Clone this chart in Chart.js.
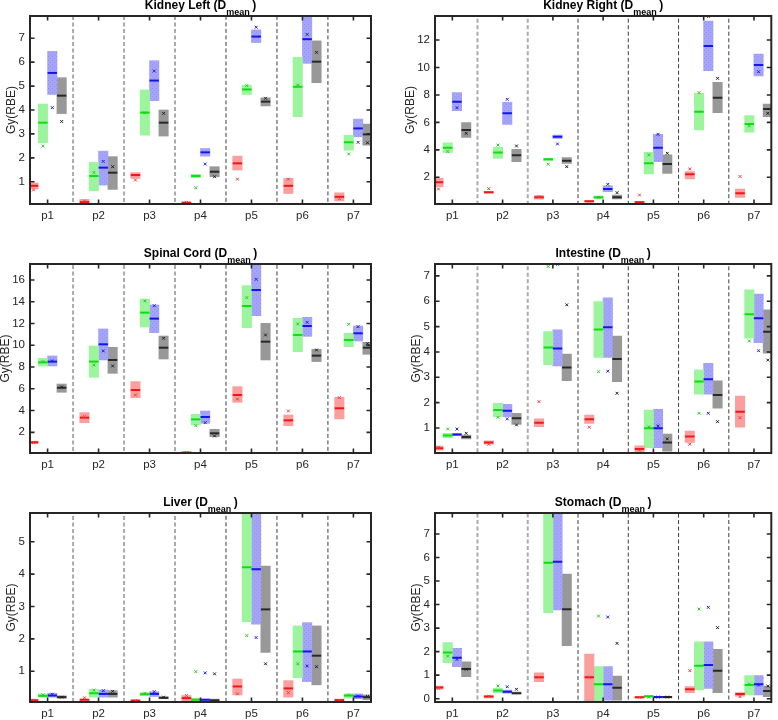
<!DOCTYPE html>
<html>
<head>
<meta charset="utf-8">
<script src="https://cdn.jsdelivr.net/npm/chart.js@4.4.1/dist/chart.umd.min.js"></script>
<style>
  html, body { margin: 0; padding: 0; background: #fff; }
  #wrap { position: relative; width: 778px; height: 720px; background: #fff; overflow: hidden; }
  canvas { position: absolute; }
</style>
</head>
<body>
<div id="wrap">
  <canvas id="c0"></canvas>
  <canvas id="c1"></canvas>
  <canvas id="c2"></canvas>
  <canvas id="c3"></canvas>
  <canvas id="c4"></canvas>
  <canvas id="c5"></canvas>
</div>
<script>
// ---------------- DATA ----------------
const categories = ['p1', 'p2', 'p3', 'p4', 'p5', 'p6', 'p7'];
// each entry: [box low, box high, median, mean]

const kidneyLeftRed   = [[0.70,0.95,0.83,0.66],[0.07,0.26,0.15,0.20],[1.14,1.38,1.28,1.07],[0.02,0.16,0.12,0.13],[1.49,2.07,1.77,1.11],[0.51,1.14,0.83,1.11],[0.20,0.54,0.37,0.30]];
const kidneyLeftGreen = [[2.63,4.25,3.47,2.49],[0.62,1.81,1.24,1.39],[2.95,4.84,3.89,3.89],[1.17,1.31,1.24,0.75],[4.65,5.04,4.86,5.02],[3.72,6.20,4.97,5.04],[2.32,2.94,2.65,2.16]];
const kidneyLeftBlue  = [[4.65,6.45,5.55,4.10],[0.86,2.28,1.59,1.85],[4.39,6.06,5.23,5.63],[2.07,2.39,2.23,1.74],[6.82,7.35,7.07,7.46],[5.95,7.95,6.96,7.16],[2.88,3.62,3.23,2.65]];
const kidneyLeftGray  = [[3.85,5.35,4.60,3.52],[0.68,2.05,1.38,1.63],[2.91,4.00,3.47,3.86],[1.21,1.63,1.42,1.21],[4.17,4.51,4.35,4.49],[5.14,6.89,6.02,6.41],[2.53,3.41,2.98,2.63]];

const kidneyRightRed   = [[1.32,1.93,1.64,1.15],[0.84,0.96,0.91,1.17],[0.40,0.67,0.54,0.59],[0.20,0.30,0.25,0.06],[0.06,0.25,0.18,0.71],[1.88,2.41,2.22,2.61],[0.54,1.15,0.84,2.06]];
const kidneyRightGreen = [[3.82,4.52,4.16,3.87],[3.38,4.18,3.80,4.35],[3.21,3.38,3.31,2.95],[0.45,0.64,0.54,0.54],[2.24,3.82,3.02,3.63],[5.45,8.12,6.78,8.17],[5.28,6.49,5.88,5.74]];
const kidneyRightBlue  = [[6.85,8.17,7.51,7.07],[5.86,7.46,6.66,7.68],[4.84,5.08,4.96,4.43],[0.96,1.37,1.15,1.49],[3.14,5.13,4.16,5.13],[9.77,13.38,11.56,13.72],[9.38,10.98,10.18,9.69]];
const kidneyRightGray  = [[4.91,5.98,5.45,5.20],[3.14,4.04,3.60,4.28],[3.02,3.43,3.21,2.78],[0.42,0.71,0.54,0.88],[2.29,3.63,2.97,3.75],[6.71,8.92,7.80,9.21],[6.42,7.34,6.98,6.66]];

const spinalCordRed   = [[0.98,1.18,1.08,1.06],[2.89,3.81,3.35,3.44],[5.19,6.66,5.89,5.43],[0.07,0.22,0.13,0.13],[4.76,6.20,5.43,5.06],[2.61,3.59,3.10,3.96],[3.23,5.22,4.21,5.19]];
const spinalCordGreen = [[8.10,8.80,8.43,8.50],[7.06,9.94,8.50,8.19],[11.68,14.25,13.00,14.07],[2.67,3.65,3.19,2.61],[11.62,15.48,13.61,14.38],[9.41,12.48,10.95,11.96],[9.87,11.10,10.49,11.93]];
const spinalCordBlue  = [[8.10,9.02,8.50,8.56],[8.65,11.50,10.09,9.48],[11.16,13.70,12.45,13.64],[2.83,3.96,3.41,2.89],[12.72,17.44,15.08,16.06],[10.82,12.57,11.77,12.11],[10.39,11.77,11.10,11.71]];
const spinalCordGray  = [[5.68,6.44,6.10,6.17],[7.42,9.81,8.65,8.10],[8.74,10.85,9.78,10.64],[1.60,2.28,1.91,1.66],[8.65,12.02,10.33,10.95],[8.50,9.63,9.05,9.57],[9.17,10.27,9.78,10.15]];

const intestineRed   = [[0.12,0.29,0.20,0.24],[0.36,0.49,0.43,0.36],[1.05,1.36,1.21,2.04],[1.18,1.51,1.34,1.03],[0.00,0.30,0.17,0.13],[0.43,0.88,0.66,0.36],[1.03,2.26,1.64,1.41]];
const intestineGreen = [[0.62,0.79,0.70,0.96],[1.45,1.97,1.71,1.42],[3.50,4.80,4.18,7.37],[3.78,5.99,4.89,3.22],[0.22,1.71,0.99,1.04],[2.33,3.29,2.83,1.58],[4.54,6.45,5.49,4.43]];
const intestineBlue  = [[0.70,0.78,0.74,0.96],[1.45,1.93,1.68,1.36],[3.45,4.87,4.14,7.46],[3.78,6.14,4.97,3.24],[0.22,1.74,0.99,1.08],[2.33,3.55,2.92,1.58],[4.37,6.28,5.33,4.05]];
const intestineGray  = [[0.57,0.72,0.64,0.79],[1.14,1.58,1.38,1.12],[2.87,3.92,3.39,5.86],[2.83,4.63,3.72,2.37],[0.09,0.76,0.43,0.57],[1.78,2.86,2.30,1.25],[3.95,5.66,4.80,3.68]];

const liverRed   = [[0.07,0.14,0.10,0.10],[0.08,0.14,0.12,0.18],[0.07,0.12,0.09,0.09],[0.06,0.25,0.17,0.25],[0.27,0.76,0.53,0.30],[0.20,0.71,0.47,0.34],[0.07,0.14,0.11,0.10]];
const liverGreen = [[0.20,0.30,0.24,0.27],[0.20,0.44,0.32,0.42],[0.24,0.34,0.29,0.32],[0.06,0.17,0.12,0.99],[2.53,5.87,4.21,2.10],[0.80,2.40,1.61,1.23],[0.17,0.30,0.25,0.27]];
const liverBlue  = [[0.20,0.32,0.25,0.29],[0.20,0.42,0.30,0.40],[0.22,0.37,0.30,0.37],[0.06,0.14,0.12,0.95],[2.45,5.87,4.15,2.04],[0.68,2.50,1.61,1.16],[0.15,0.30,0.22,0.23]];
const liverGray  = [[0.17,0.24,0.20,0.20],[0.20,0.40,0.30,0.38],[0.15,0.21,0.18,0.20],[0.07,0.14,0.10,0.92],[1.58,4.25,2.91,1.23],[0.58,2.40,1.48,1.14],[0.12,0.27,0.20,0.22]];

const stomachRed   = [[0.40,0.54,0.48,0.44],[0.03,0.13,0.09,0.11],[0.72,1.10,0.91,0.91],[-0.13,1.90,0.91,0.91],[0.03,0.09,0.06,0.06],[0.26,0.51,0.40,1.19],[0.11,0.26,0.20,0.09]];
const stomachGreen = [[1.53,2.38,1.96,1.81],[0.26,0.44,0.35,0.54],[3.66,7.88,5.78,null],[-0.13,1.36,0.61,3.51],[0.04,0.13,0.10,0.07],[0.37,2.42,1.40,3.81],[0.16,0.98,0.58,0.62]];
const stomachBlue  = [[1.36,2.14,1.74,1.67],[0.23,0.37,0.30,0.51],[3.77,7.88,5.82,null],[-0.06,1.36,0.61,3.47],[0.03,0.10,0.07,0.07],[0.44,2.42,1.43,3.88],[0.16,0.98,0.61,0.58]];
const stomachGray  = [[0.94,1.57,1.26,1.25],[0.20,0.28,0.23,0.40],[2.25,5.30,3.80,null],[-0.06,0.96,0.47,2.35],[0.03,0.09,0.07,0.07],[0.26,2.10,1.19,3.02],[0.09,0.54,0.33,0.54]];

// y ranges and tick labels
const kidneyLeftRange  = [0.07, 7.93];   const kidneyLeftTicks  = [1,2,3,4,5,6,7];
const kidneyRightRange = [0.055, 13.75]; const kidneyRightTicks = [2,4,6,8,10,12];
const spinalCordRange  = [0.10, 17.47];  const spinalCordTicks  = [2,4,6,8,10,12,14,16];
const intestineRange   = [0.013, 7.47];  const intestineTicks   = [1,2,3,4,5,6,7];
const liverRange       = [0.05, 5.886];  const liverTicks       = [1,2,3,4,5];
const stomachRange     = [-0.14, 7.89];  const stomachTicks     = [0,1,2,3,4,5,6,7];

// ---------------- STYLE / LAYOUT ----------------
const FONT = '"Liberation Sans", Arial, Helvetica, sans-serif';
const OFFSETS = [-0.276, -0.092, 0.092, 0.276];
const X_RANGE = [0.655, 7.345];

function dotPattern(base, dot) {
  const c = document.createElement('canvas');
  c.width = 4; c.height = 4;
  const g = c.getContext('2d');
  g.fillStyle = base; g.fillRect(0, 0, 4, 4);
  g.fillStyle = dot; g.fillRect(0, 0, 1, 1); g.fillRect(2, 2, 1, 1);
  return g.createPattern(c, 'repeat');
}

const seriesStyle = [
  { fill: 'rgb(250,158,158)', med: 'rgb(245,20,20)', mean: 'rgb(240,60,60)' },
  { fill: 'rgb(156,245,156)', med: 'rgb(10,225,10)', mean: 'rgb(40,200,40)' },
  { fill: dotPattern('rgb(164,164,250)', 'rgb(148,148,240)'), med: 'rgb(20,20,240)', mean: 'rgb(30,30,230)' },
  { fill: 'rgb(152,152,152)', med: 'rgb(40,40,40)', mean: 'rgb(30,30,30)' }
];

const panels = [
  { id: 'c0', title: 'Kidney Left',  series: [kidneyLeftRed, kidneyLeftGreen, kidneyLeftBlue, kidneyLeftGray],
    range: kidneyLeftRange, ticks: kidneyLeftTicks, thick: 3,
    box: { left: 0, top: 0, w: 390, h: 235 }, area: { l: 30, r: 371, t: 16, b: 204 }, ylab: 12 },
  { id: 'c1', title: 'Kidney Right', series: [kidneyRightRed, kidneyRightGreen, kidneyRightBlue, kidneyRightGray],
    range: kidneyRightRange, ticks: kidneyRightTicks, thick: 2,
    box: { left: 390, top: 0, w: 388, h: 235 }, area: { l: 435, r: 777, t: 16, b: 204 }, ylab: 20.5 },
  { id: 'c2', title: 'Spinal Cord',  series: [spinalCordRed, spinalCordGreen, spinalCordBlue, spinalCordGray],
    range: spinalCordRange, ticks: spinalCordTicks, thick: 3,
    box: { left: 0, top: 235, w: 390, h: 235 }, area: { l: 30, r: 371, t: 264, b: 453 }, ylab: 6 },
  { id: 'c3', title: 'Intestine',    series: [intestineRed, intestineGreen, intestineBlue, intestineGray],
    range: intestineRange, ticks: intestineTicks, thick: 2,
    box: { left: 390, top: 235, w: 388, h: 235 }, area: { l: 435, r: 777, t: 264, b: 453 }, ylab: 27 },
  { id: 'c4', title: 'Liver',        series: [liverRed, liverGreen, liverBlue, liverGray],
    range: liverRange, ticks: liverTicks, thick: 3,
    box: { left: 0, top: 470, w: 390, h: 250 }, area: { l: 30, r: 371, t: 513, b: 702 }, ylab: 12 },
  { id: 'c5', title: 'Stomach',      series: [stomachRed, stomachGreen, stomachBlue, stomachGray],
    range: stomachRange, ticks: stomachTicks, thick: 2,
    box: { left: 390, top: 470, w: 388, h: 250 }, area: { l: 435, r: 777, t: 513, b: 702 }, ylab: 27 }
];

// ---------------- PLUGIN: frame, inward ticks, labels, title ----------------
const decorPlugin = {
  id: 'decor',
  afterDraw(chart, args, o) {
    const { ctx, chartArea: a } = chart;
    const x = chart.scales.x, y = chart.scales.y;
    ctx.save();
    ctx.strokeStyle = '#262626';
    ctx.lineWidth = 2;
    ctx.strokeRect(a.left, a.top, a.right - a.left, a.bottom - a.top);
    const tl = 4.5;
    ctx.lineWidth = 1.6;
    ctx.beginPath();
    o.ticks.forEach(v => {
      const py = y.getPixelForValue(v);
      ctx.moveTo(a.left, py); ctx.lineTo(a.left + tl, py);
      ctx.moveTo(a.right, py); ctx.lineTo(a.right - tl, py);
    });
    categories.forEach((c, i) => {
      const px = x.getPixelForValue(i + 1);
      ctx.moveTo(px, a.top); ctx.lineTo(px, a.top + tl);
      ctx.moveTo(px, a.bottom); ctx.lineTo(px, a.bottom - tl);
    });
    ctx.stroke();
    ctx.fillStyle = '#262626';
    ctx.font = '11.5px ' + FONT;
    ctx.textAlign = 'right';
    ctx.textBaseline = 'middle';
    o.ticks.forEach(v => ctx.fillText(String(v), a.left - 5, y.getPixelForValue(v)));
    ctx.textAlign = 'center';
    ctx.textBaseline = 'alphabetic';
    categories.forEach((c, i) => ctx.fillText(c, x.getPixelForValue(i + 1), a.bottom + 14.5));
    ctx.save();
    ctx.translate(o.ylab, (a.top + a.bottom) / 2);
    ctx.rotate(-Math.PI / 2);
    ctx.font = '12px ' + FONT;
    ctx.textAlign = 'center';
    ctx.textBaseline = 'middle';
    ctx.fillText('Gy(RBE)', 0, 0);
    ctx.restore();
    const fMain = 'bold 12px ' + FONT, fSub = 'bold 9px ' + FONT;
    const t1 = o.title + ' (D', t2 = 'mean', t3 = ')';
    ctx.font = fMain;
    const w1 = ctx.measureText(t1).width, w3 = ctx.measureText(t3).width;
    ctx.font = fSub;
    const w2 = ctx.measureText(t2).width;
    const gap = 2.5;
    const total = w1 + w2 + gap + w3;
    const cx = (a.left + a.right) / 2;
    const base = a.top - 7.5;
    let x0 = cx - total / 2;
    ctx.fillStyle = '#000';
    ctx.textAlign = 'left';
    ctx.font = fMain; ctx.fillText(t1, x0, base);
    ctx.font = fSub;  ctx.fillText(t2, x0 + w1, base + 6.5);
    ctx.font = fMain; ctx.fillText(t3, x0 + w1 + w2 + gap, base);
    ctx.restore();
  }
};

// ---------------- BUILD ----------------
function separatorData(xs, range) {
  const d = [];
  xs.forEach(s => { d.push({ x: s, y: range[0] - 1 }, { x: s, y: range[1] + 1 }, { x: s, y: null }); });
  return d;
}

panels.forEach(p => {
  const cv = document.getElementById(p.id);
  cv.width = p.box.w; cv.height = p.box.h;
  cv.style.left = p.box.left + 'px'; cv.style.top = p.box.top + 'px';
  cv.style.width = p.box.w + 'px'; cv.style.height = p.box.h + 'px';

  const datasets = [];
  p.series.forEach((vals, k) => {
    datasets.push({
      type: 'scatter', order: 0,
      data: vals.map((v, i) => ({ x: i + 1 + OFFSETS[k], y: v[3] })),
      pointStyle: 'crossRot', pointRadius: 2, borderWidth: 1,
      borderColor: seriesStyle[k].mean, backgroundColor: seriesStyle[k].mean
    });
  });
  p.series.forEach((vals, k) => {
    datasets.push({
      type: 'scatter', order: 1,
      data: vals.map((v, i) => ({ x: i + 1 + OFFSETS[k], y: v[2] })),
      pointStyle: 'line', pointRadius: 4.7, borderWidth: 2,
      borderColor: seriesStyle[k].med, backgroundColor: seriesStyle[k].med
    });
  });
  p.series.forEach((vals, k) => {
    datasets.push({
      type: 'bar', order: 2, grouped: false, barThickness: 9.4,
      data: vals.map((v, i) => ({ x: i + 1 + OFFSETS[k], y: [v[0], v[1]] })),
      backgroundColor: seriesStyle[k].fill, borderWidth: 0
    });
  });
  const seps = [1.5, 2.5, 3.5, 4.5, 5.5, 6.5];
  datasets.push({
    type: 'line', order: 3,
    data: separatorData(seps.slice(0, p.thick), p.range),
    borderColor: 'rgb(170,170,170)', borderWidth: 2, borderDash: [4, 2.5],
    pointRadius: 0, spanGaps: false, fill: false
  });
  datasets.push({
    type: 'line', order: 3,
    data: separatorData(seps.slice(p.thick), p.range),
    borderColor: 'rgb(60,60,60)', borderWidth: 1, borderDash: [4, 2.5],
    pointRadius: 0, spanGaps: false, fill: false
  });

  new Chart(cv, {
    type: 'bar',
    data: { datasets },
    options: {
      responsive: false,
      animation: false,
      devicePixelRatio: 1,
      events: [],
      layout: { padding: { left: p.area.l - p.box.left, right: p.box.left + p.box.w - p.area.r,
                           top: p.area.t - p.box.top, bottom: p.box.top + p.box.h - p.area.b } },
      scales: {
        x: { type: 'linear', min: X_RANGE[0], max: X_RANGE[1], display: false, offset: false },
        y: { type: 'linear', min: p.range[0], max: p.range[1], display: false, beginAtZero: false }
      },
      plugins: {
        legend: { display: false },
        tooltip: { enabled: false },
        decor: { ticks: p.ticks, title: p.title, ylab: p.ylab }
      }
    },
    plugins: [decorPlugin]
  });
});
</script>
</body>
</html>
